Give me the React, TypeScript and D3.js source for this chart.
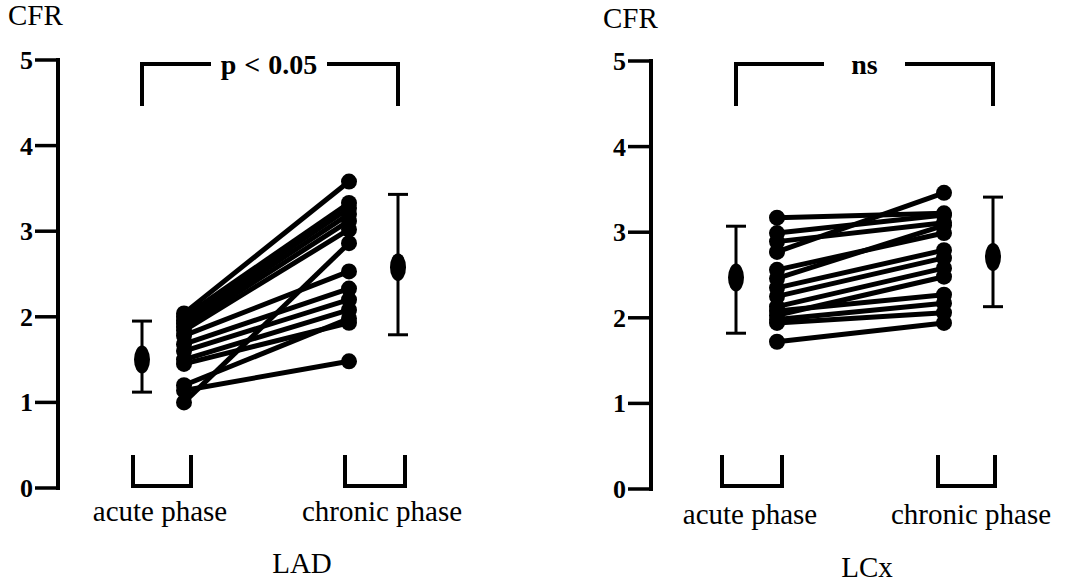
import React from 'react';
import * as d3 from 'd3';

// CFR values per patient
const phases = ['acute phase', 'chronic phase'];
const yTicks = [0, 1, 2, 3, 4, 5];

const ladAcute = [2.04, 2.0, 1.96, 1.92, 1.88, 1.84, 1.78, 1.68, 1.6, 1.5, 1.45, 1.2, 1.14, 1.0];
const ladChronic = [3.58, 3.33, 3.27, 3.2, 3.12, 3.02, 2.53, 2.33, 2.2, 2.08, 1.93, 1.98, 1.48, 2.86];
const ladMean = [1.5, 2.58];
const ladLow = [1.12, 1.79];
const ladHigh = [1.95, 3.43];

const lcxAcute = [3.17, 2.99, 2.89, 2.77, 2.56, 2.46, 2.35, 2.25, 2.13, 2.03, 2.08, 1.98, 1.94, 1.72];
const lcxChronic = [3.22, 3.2, 3.11, 3.46, 2.99, 3.08, 2.79, 2.7, 2.58, 2.48, 2.27, 2.17, 2.06, 1.94];
const lcxMean = [2.47, 2.71];
const lcxLow = [1.82, 2.13];
const lcxHigh = [3.07, 3.41];

const serif = '"Liberation Serif", "Times New Roman", serif';

type PanelProps = {
  acute: number[];
  chronic: number[];
  mean: number[];
  low: number[];
  high: number[];
  title: string;
  sig: string;
  axisX: number;
  yBottom: number;
  yTop: number;
  xs: number[]; // meanAcute, acute, chronic, meanChronic
  labelX: number[];
  titleX: number;
  labelY: number;
  titleY: number;
  cfrX: number;
  cfrY: number;
  sigGap: number[];
  botBrackets: number[][];
};

const Panel = (p: PanelProps) => {
  const y = d3.scaleLinear().domain([0, 5]).range([p.yBottom, p.yTop]);
  const x = d3.scalePoint<string>().domain(phases).range([p.xs[1], p.xs[2]]);
  const meanX = [p.xs[0], p.xs[3]];
  const line = d3.line<[number, number]>().x(d => d[0]).y(d => d[1]);

  const topY = 64;
  const topBot = 106;

  return (
    <g>
      <text x={p.cfrX} y={p.cfrY} fontSize={29} fontFamily={serif}>CFR</text>
      {/* axis */}
      <line x1={p.axisX} x2={p.axisX} y1={y(5) - 2} y2={y(0) + 2} stroke="#000" strokeWidth={4} />
      {yTicks.map(t => (
        <g key={t}>
          <line x1={p.axisX - 23} x2={p.axisX} y1={y(t)} y2={y(t)} stroke="#000" strokeWidth={3.5} />
          <text x={p.axisX - 25} y={y(t) + 9} textAnchor="end" fontSize={26} fontWeight="bold" fontFamily={serif}>{t}</text>
        </g>
      ))}

      {/* significance bracket */}
      <path d={`M${meanX[0]},${topBot}V${topY}H${p.sigGap[0]}`} fill="none" stroke="#000" strokeWidth={4} />
      <path d={`M${p.sigGap[1]},${topY}H${meanX[1]}V${topBot}`} fill="none" stroke="#000" strokeWidth={4} />
      <text x={(p.sigGap[0] + p.sigGap[1]) / 2} y={topY + 10} textAnchor="middle" fontSize={28} fontWeight="bold" fontFamily={serif} wordSpacing={1}>{p.sig}</text>

      {/* paired lines */}
      {p.acute.map((a, i) => (
        <path key={i} d={line([[x(phases[0])!, y(a)], [x(phases[1])!, y(p.chronic[i])]])!} stroke="#000" strokeWidth={5} fill="none" />
      ))}
      {p.acute.map((a, i) => (
        <circle key={'a' + i} cx={x(phases[0])} cy={y(a)} r={8} fill="#000" />
      ))}
      {p.chronic.map((c, i) => (
        <circle key={'c' + i} cx={x(phases[1])} cy={y(c)} r={8} fill="#000" />
      ))}

      {/* mean +- SD */}
      {p.mean.map((m, i) => (
        <g key={'m' + i}>
          <line x1={meanX[i]} x2={meanX[i]} y1={y(p.low[i])} y2={y(p.high[i])} stroke="#000" strokeWidth={3} />
          <line x1={meanX[i] - 10} x2={meanX[i] + 10} y1={y(p.low[i])} y2={y(p.low[i])} stroke="#000" strokeWidth={3} />
          <line x1={meanX[i] - 10} x2={meanX[i] + 10} y1={y(p.high[i])} y2={y(p.high[i])} stroke="#000" strokeWidth={3} />
          <ellipse cx={meanX[i]} cy={y(m)} rx={8} ry={14} fill="#000" />
        </g>
      ))}

      {/* bottom group brackets */}
      {p.botBrackets.map((b, i) => (
        <path key={'b' + i} d={`M${b[0]},455V486H${b[1]}V455`} fill="none" stroke="#000" strokeWidth={4} />
      ))}
      {phases.map((ph, i) => (
        <text key={ph} x={p.labelX[i]} y={p.labelY} textAnchor="middle" fontSize={29} fontFamily={serif}>{ph}</text>
      ))}
      <text x={p.titleX} y={p.titleY} textAnchor="middle" fontSize={29} fontFamily={serif}>{p.title}</text>
    </g>
  );
};

export default function App() {
  return (
    <div style={{ position: 'absolute', left: 0, top: 0, background: '#fff' }}>
      <svg width={1070} height={584} style={{ display: 'block' }}>
        <rect width={1070} height={584} fill="#fff" />
        <Panel
          acute={ladAcute} chronic={ladChronic} mean={ladMean} low={ladLow} high={ladHigh}
          title="LAD" sig="p < 0.05"
          axisX={58} yBottom={488} yTop={60}
          xs={[142, 184, 349, 398]}
          labelX={[160, 382]} titleX={302} labelY={521} titleY={573}
          cfrX={8} cfrY={25}
          sigGap={[211, 327]}
          botBrackets={[[133, 191], [345, 405]]}
        />
        <Panel
          acute={lcxAcute} chronic={lcxChronic} mean={lcxMean} low={lcxLow} high={lcxHigh}
          title="LCx" sig="ns"
          axisX={651} yBottom={489} yTop={61}
          xs={[736, 777, 944, 993]}
          labelX={[750, 971]} titleX={867} labelY={524} titleY={577}
          cfrX={603} cfrY={28}
          sigGap={[824, 905]}
          botBrackets={[[722, 782], [938, 995]]}
        />
      </svg>
    </div>
  );
}
